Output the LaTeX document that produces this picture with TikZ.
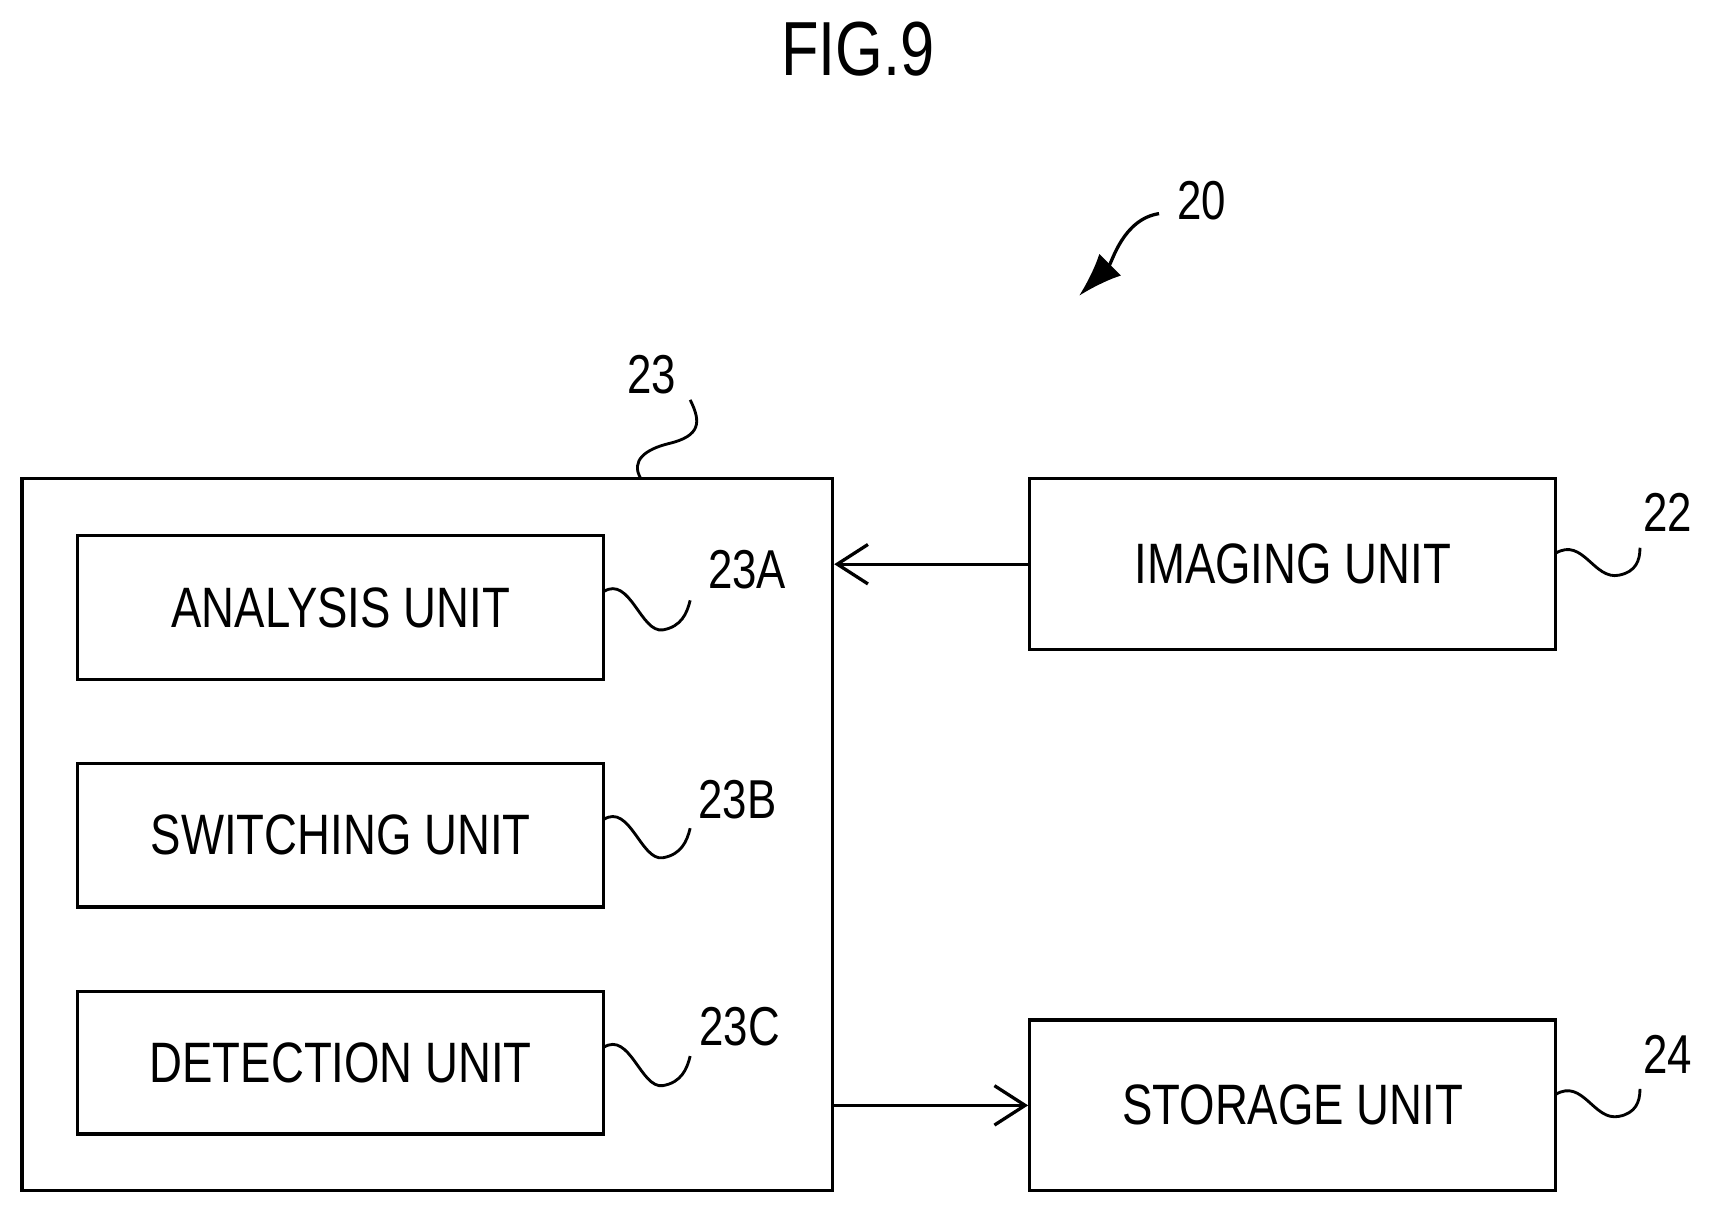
\documentclass[tikz,border=0pt]{standalone}
\usepackage{fontspec}
\setmainfont{Liberation Sans}[FakeStretch=0.8]
\usetikzlibrary{arrows.meta}
\begin{document}
\begin{tikzpicture}[x=0.5pt,y=-0.5pt,
  box/.style={draw,line width=1.5pt,inner sep=0pt,font=\fontsize{26}{30}\selectfont},
  lbl/.style={font=\fontsize{25}{30}\selectfont,inner sep=0pt},
  sq/.style={line width=1.3pt}]
\useasboundingbox (0,0) rectangle (1560,1103);
\node[font=\fontsize{35}{40}\selectfont] (fig) at (783,45) {FIG.9};
\node[box,minimum width=370pt,minimum height=325pt] (b23) at (390,762) {};
\node[box,minimum width=240pt,minimum height=65.5pt] (b23a) at (311,554.5) {ANALYSIS UNIT};
\node[box,minimum width=240pt,minimum height=65.5pt] (b23b) at (311,762.5) {SWITCHING UNIT};
\node[box,minimum width=240pt,minimum height=65pt] (b23c) at (311,970) {DETECTION UNIT};
\node[box,minimum width=240pt,minimum height=78pt] (b22) at (1180,515) {IMAGING UNIT};
\node[box,minimum width=240pt,minimum height=78pt] (b24) at (1180,1009) {STORAGE UNIT};
\node[lbl] (l20) at (1097,183) {20};
\node[lbl] (l23) at (595,342) {23};
\node[lbl] (l23a) at (682,520) {23A};
\node[lbl] (l23b) at (673,730) {23B};
\node[lbl] (l23c) at (675,937) {23C};
\node[lbl] (l22) at (1522,468) {22};
\node[lbl] (l24) at (1522,962) {24};
\coordinate (t20) at (1058,195);
\coordinate (h20) at (985,270);
\draw[line width=1.5pt,-{Latex[length=20pt,width=14pt]}] (t20) .. controls (1025,200) and (1015,240) .. (h20);
\draw[sq] (585,437) .. controls (575,420) and (590,410) .. (610,405) .. controls (640,398) and (640,385) .. (630,365);
\foreach \y in {540,748,956}{
  \draw[sq] (551,\y) .. controls (575,525+\y-540) and (585,578+\y-540) .. (605,575+\y-540) .. controls (622,572+\y-540) and (627,560+\y-540) .. (630,548+\y-540);}
\foreach \y in {505,999}{
  \draw[sq] (1420,\y) .. controls (1445,490+\y-505) and (1455,530+\y-505) .. (1478,525+\y-505) .. controls (1493,522+\y-505) and (1497,512+\y-505) .. (1497,500+\y-505);}
\draw[line width=1.5pt,-{Straight Barb[length=14pt,width=18pt]}] (b22.west) -- (b23.east |- b22.west);
\draw[line width=1.5pt,-{Straight Barb[length=14pt,width=18pt]}] (b23.east |- b24.west) -- (b24.west);
\end{tikzpicture}
\end{document}
